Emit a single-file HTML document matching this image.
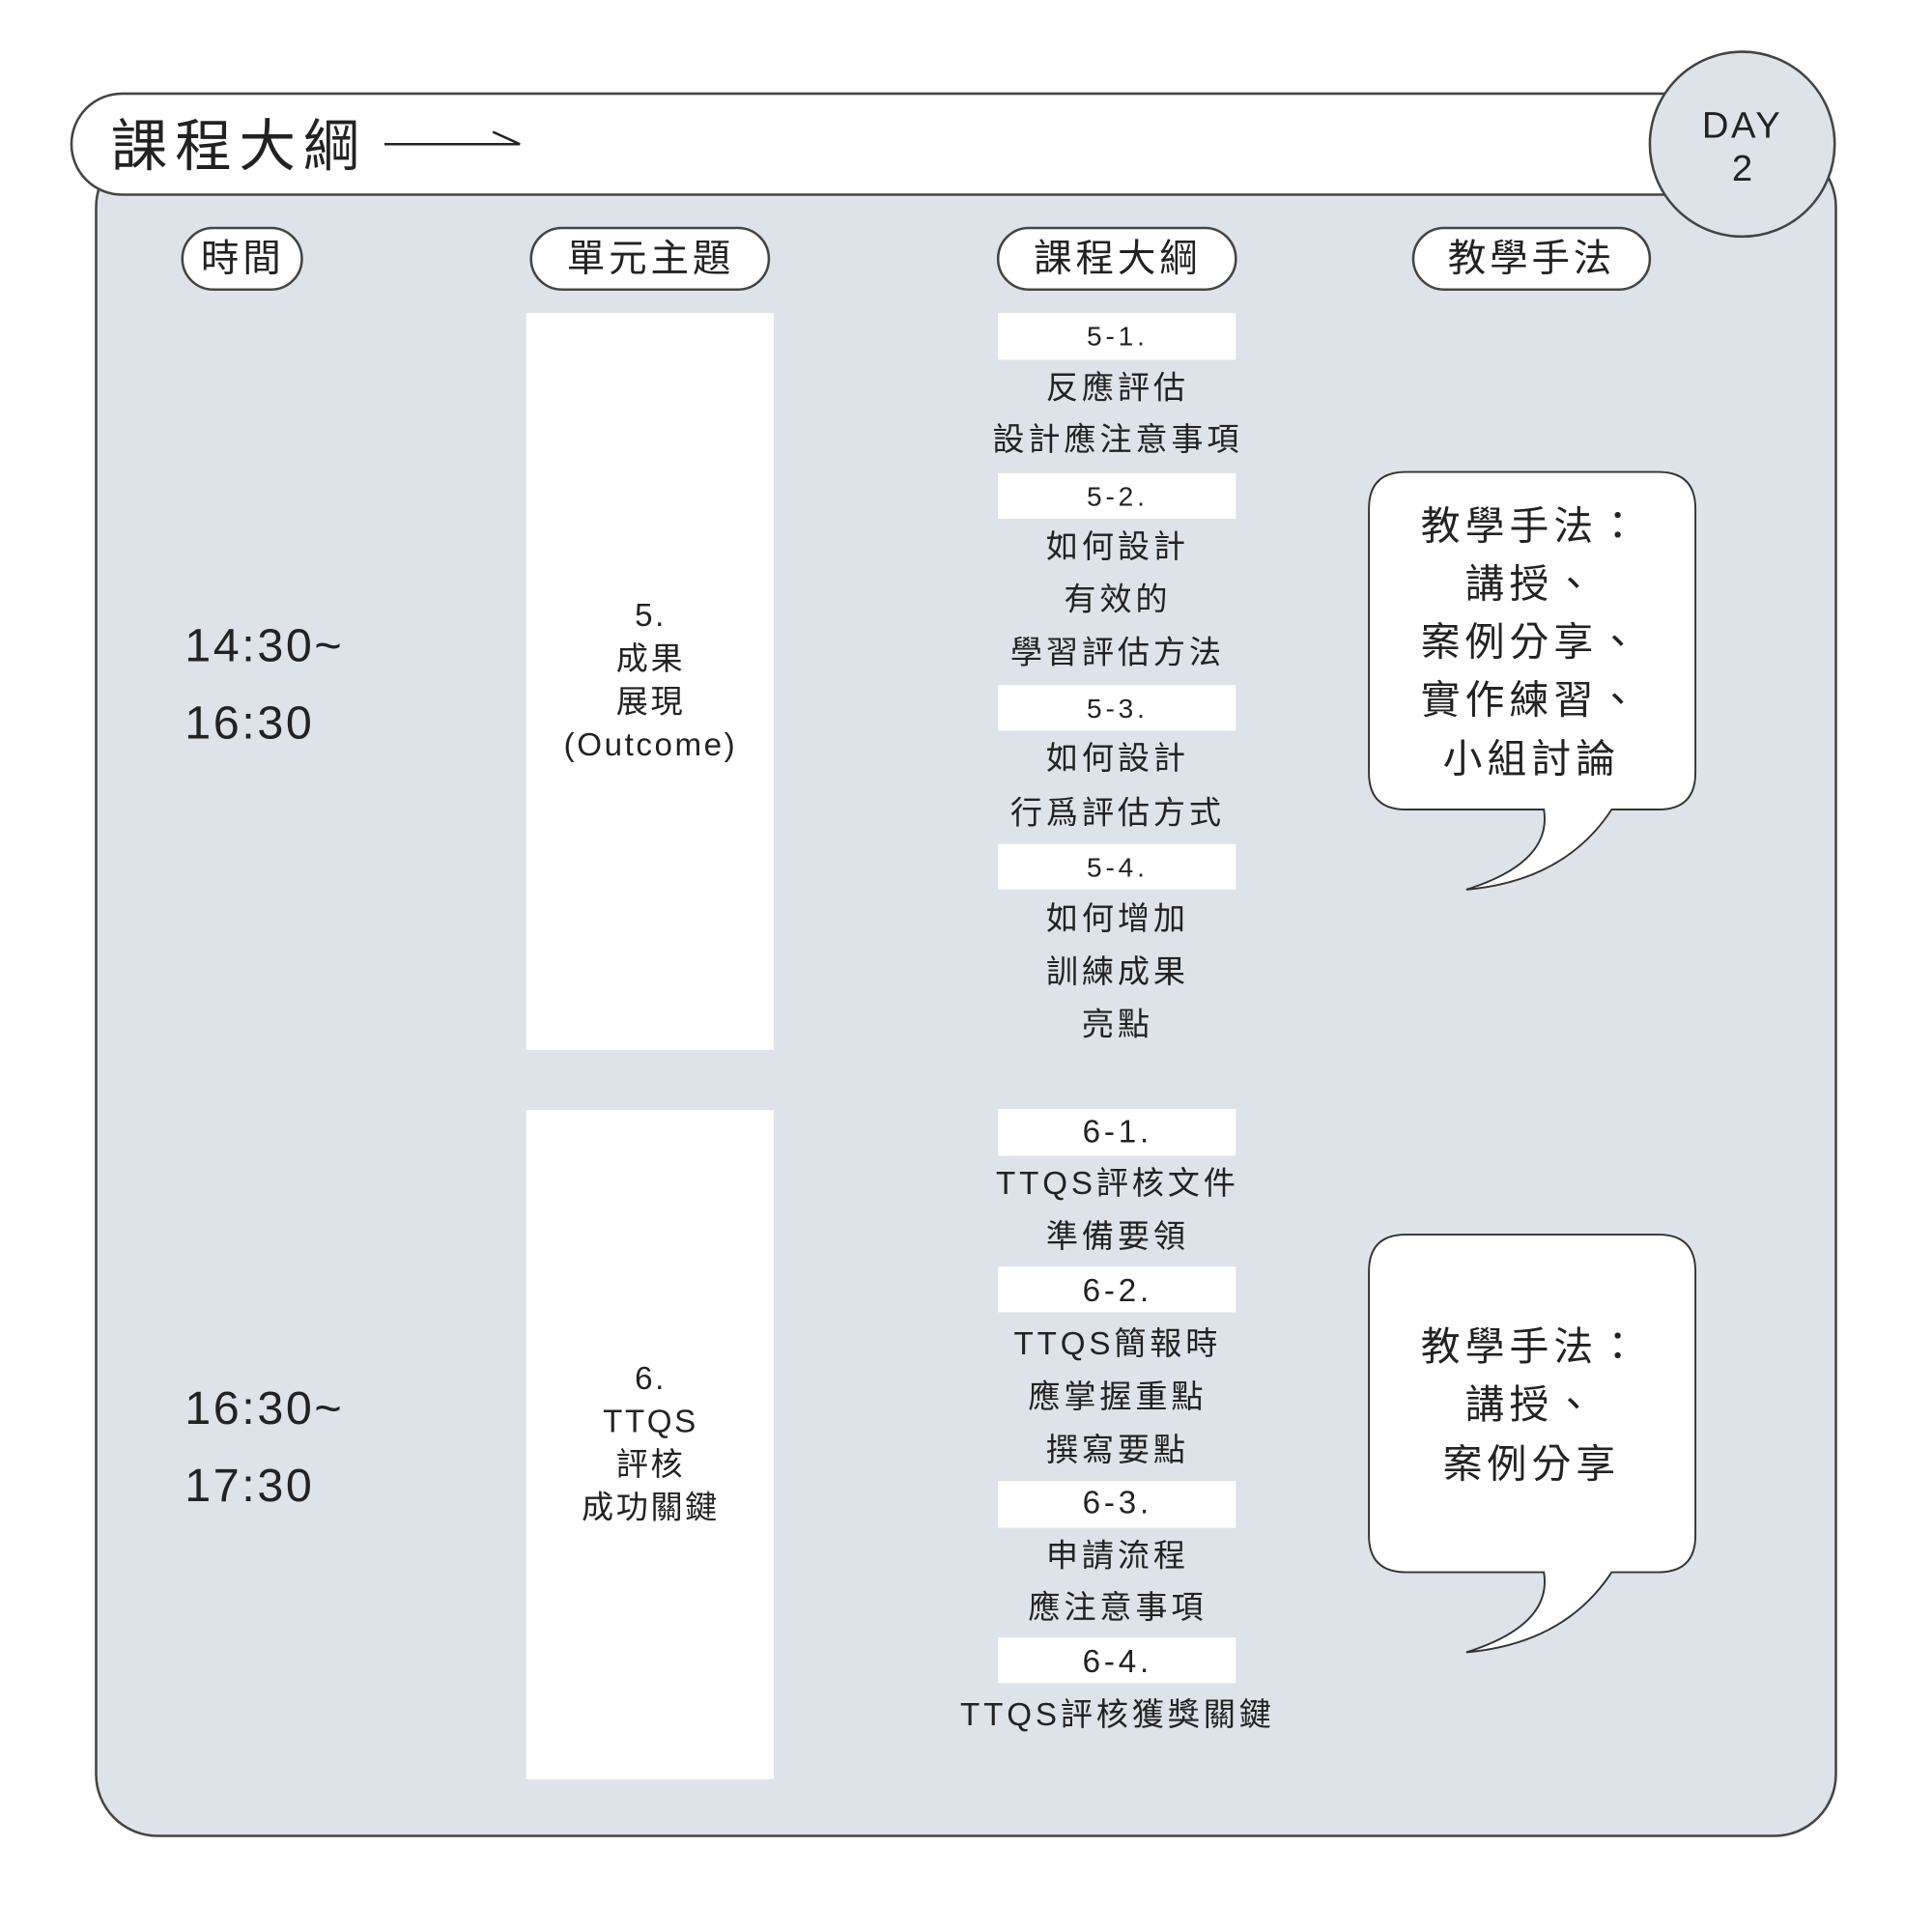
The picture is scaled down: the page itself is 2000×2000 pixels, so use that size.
<!DOCTYPE html>
<html><head><meta charset="utf-8"><style>
html,body{margin:0;padding:0;background:#fff;width:2000px;height:2000px;overflow:hidden}
svg{display:block}
text{font-family:"Liberation Sans","Noto Sans CJK TC",sans-serif;fill:#222}
</style></head><body>
<svg width="2000" height="2000" viewBox="0 0 1568 1568" xmlns="http://www.w3.org/2000/svg">
<rect x="0" y="0" width="1568" height="1568" fill="#fff"/>
<rect x="78" y="118" width="1412" height="1372" rx="50" fill="#dde3e9" stroke="#444" stroke-width="2"/>
<rect x="58" y="76" width="1360" height="82" rx="41" fill="#fff" stroke="#444" stroke-width="2"/>
<circle cx="1414" cy="117" r="75" fill="#dde3e9" stroke="#444" stroke-width="2"/>
<text x="1414" y="102" font-size="30" text-anchor="middle" dominant-baseline="central" letter-spacing="2">DAY</text>
<text x="1414" y="137" font-size="30" text-anchor="middle" dominant-baseline="central">2</text>
<text x="90" y="119" font-size="46" dominant-baseline="central" letter-spacing="6">課程大綱</text>
<line x1="312" y1="117" x2="422" y2="117" stroke="#222" stroke-width="2"/>
<line x1="400" y1="107" x2="422" y2="117" stroke="#222" stroke-width="2"/>

<g fill="#fff" stroke="#444" stroke-width="2">
<rect x="148" y="185" width="97" height="50" rx="25"/>
<rect x="431" y="185" width="193" height="50" rx="25"/>
<rect x="810" y="185" width="193" height="50" rx="25"/>
<rect x="1147" y="185" width="192" height="50" rx="25"/>
</g>
<g font-size="31" text-anchor="middle" dominant-baseline="central" letter-spacing="3">
<text x="197" y="210">時間</text>
<text x="528" y="210">單元主題</text>
<text x="907" y="210">課程大綱</text>
<text x="1243" y="210">教學手法</text>
</g>

<rect x="427" y="254" width="201" height="598" fill="#fff"/>
<rect x="427" y="901" width="201" height="543" fill="#fff"/>
<g font-size="26" text-anchor="middle" dominant-baseline="central" letter-spacing="2">
<text x="528" y="500">5.</text><text x="528" y="535">成果</text><text x="528" y="570">展現</text><text x="528" y="605">(Outcome)</text>
<text x="528" y="1119">6.</text><text x="528" y="1154">TTQS</text><text x="528" y="1189">評核</text><text x="528" y="1224">成功關鍵</text>
</g>
<g font-size="38" dominant-baseline="central" letter-spacing="2">
<text x="150" y="524">14:30~</text><text x="150" y="587">16:30</text>
<text x="150" y="1143">16:30~</text><text x="150" y="1206">17:30</text>
</g>

<g fill="#fff">
<rect x="810" y="254" width="193" height="38"/>
<rect x="810" y="384" width="193" height="37"/>
<rect x="810" y="556" width="193" height="37"/>
<rect x="810" y="685" width="193" height="37"/>
<rect x="810" y="900" width="193" height="38"/>
<rect x="810" y="1028" width="193" height="37"/>
<rect x="810" y="1202" width="193" height="38"/>
<rect x="810" y="1329" width="193" height="37"/>
</g>
<g font-size="26" text-anchor="middle" dominant-baseline="central" letter-spacing="3">
<text x="907" y="273" font-size="22">5-1.</text>
<text x="907" y="315">反應評估</text>
<text x="907" y="357">設計應注意事項</text>
<text x="907" y="403" font-size="22">5-2.</text>
<text x="907" y="444">如何設計</text>
<text x="907" y="487">有效的</text>
<text x="907" y="530">學習評估方法</text>
<text x="907" y="575" font-size="22">5-3.</text>
<text x="907" y="616">如何設計</text>
<text x="907" y="660">行爲評估方式</text>
<text x="907" y="704" font-size="22">5-4.</text>
<text x="907" y="746">如何增加</text>
<text x="907" y="789">訓練成果</text>
<text x="907" y="832">亮點</text>
<text x="907" y="919">6-1.</text>
<text x="907" y="961">TTQS評核文件</text>
<text x="907" y="1004">準備要領</text>
<text x="907" y="1048">6-2.</text>
<text x="907" y="1091">TTQS簡報時</text>
<text x="907" y="1134">應掌握重點</text>
<text x="907" y="1177">撰寫要點</text>
<text x="907" y="1220">6-3.</text>
<text x="907" y="1263">申請流程</text>
<text x="907" y="1305">應注意事項</text>
<text x="907" y="1349">6-4.</text>
<text x="907" y="1392">TTQS評核獲獎關鍵</text>
</g>

<g fill="#fff" stroke="#333" stroke-width="1.5">
<path d="M1141 383 H1346 Q1376 383 1376 413 V627 Q1376 657 1346 657 H1308 Q1270 715 1190 722 Q1260 700 1253 657 H1141 Q1111 657 1111 627 V413 Q1111 383 1141 383 Z"/>
<path d="M1141 1002 H1346 Q1376 1002 1376 1032 V1246 Q1376 1276 1346 1276 H1308 Q1270 1334 1190 1341 Q1260 1319 1253 1276 H1141 Q1111 1276 1111 1246 V1032 Q1111 1002 1141 1002 Z"/>
</g>
<g font-size="32" text-anchor="middle" dominant-baseline="central" letter-spacing="4">
<text x="1243" y="427">教學手法：</text>
<text x="1243" y="474">講授、</text>
<text x="1243" y="521">案例分享、</text>
<text x="1243" y="568">實作練習、</text>
<text x="1243" y="616">小組討論</text>
<text x="1243" y="1093">教學手法：</text>
<text x="1243" y="1140">講授、</text>
<text x="1243" y="1188">案例分享</text>
</g>
</svg>
</body></html>
